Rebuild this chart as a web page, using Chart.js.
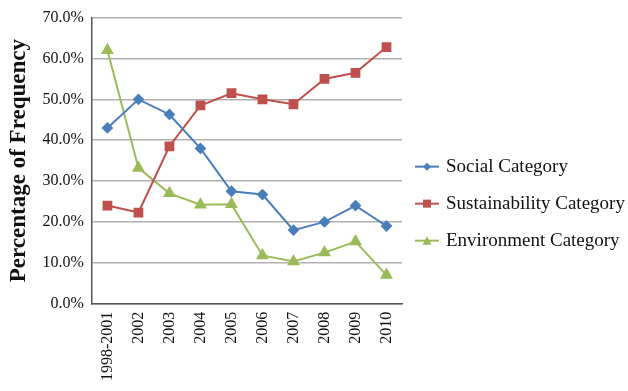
<!DOCTYPE html>
<html>
<head>
<meta charset="utf-8">
<script src="https://cdn.jsdelivr.net/npm/chart.js@4/dist/chart.umd.min.js"></script>
<style>
  html, body { margin: 0; padding: 0; background: #fff; }
  #wrap { width: 628px; height: 391px; }
</style>
</head>
<body>
<div id="wrap"><canvas id="chart" width="628" height="391"></canvas></div>
<script>
const years = ["1998-2001", "2002", "2003", "2004", "2005", "2006", "2007", "2008", "2009", "2010"];
const socialValues = [43.0, 50.0, 46.3, 38.0, 27.5, 26.7, 18.0, 20.0, 24.0, 19.0];
const sustainValues = [24.0, 22.3, 38.5, 48.5, 51.5, 50.0, 48.8, 55.0, 56.5, 62.8];
const envValues = [62.0, 33.2, 27.0, 24.2, 24.3, 11.8, 10.3, 12.5, 15.2, 7.0];
const seriesNames = ["Social Category", "Sustainability Category", "Environment Category"];

const blue = "#4a7ebb", red = "#c0504d", green = "#9bbb59";
const serif = "'Liberation Serif', 'Times New Roman', serif";

function drawMarker(g, shape, x, y) {
    g.beginPath();
    if (shape === "rectRot") {
        g.moveTo(x, y - 4); g.lineTo(x + 4, y); g.lineTo(x, y + 4); g.lineTo(x - 4, y);
    } else if (shape === "rect") {
        g.rect(x - 4, y - 4, 8, 8);
    } else {
        g.moveTo(x, y - 4.5); g.lineTo(x + 4.5, y + 4); g.lineTo(x - 4.5, y + 4);
    }
    g.closePath(); g.fill();
}

// legend to the right of the plot, drawn by hand so line + marker symbols match
const sideLegend = {
    id: "sideLegend",
    afterDraw(chart) {
        const g = chart.ctx;
        const x0 = chart.chartArea.right + 13;
        const yMid = (chart.chartArea.top + chart.chartArea.bottom) / 2 + 43;
        g.save();
        g.font = "19px " + serif;
        g.textBaseline = "middle";
        chart.data.datasets.forEach((ds, i) => {
            const y = yMid + (i - 1) * 37;
            g.strokeStyle = ds.borderColor; g.fillStyle = ds.borderColor; g.lineWidth = 2;
            g.beginPath(); g.moveTo(x0, y); g.lineTo(x0 + 24, y); g.stroke();
            drawMarker(g, ds.pointStyle, x0 + 12, y);
            g.fillStyle = "#111";
            g.fillText(ds.label, x0 + 31, y);
        });
        g.restore();
    }
};

new Chart(document.getElementById("chart").getContext("2d"), {
    type: "line",
    data: {
        labels: years,
        datasets: [
            {
                label: seriesNames[0], data: socialValues,
                borderColor: blue, backgroundColor: blue, borderWidth: 2,
                pointStyle: "rectRot", pointRadius: 4.5, pointHoverRadius: 4.5, tension: 0
            },
            {
                label: seriesNames[1], data: sustainValues,
                borderColor: red, backgroundColor: red, borderWidth: 2,
                pointStyle: "rect", pointRadius: 5.5, pointHoverRadius: 5.5, tension: 0
            },
            {
                label: seriesNames[2], data: envValues,
                borderColor: green, backgroundColor: green, borderWidth: 2,
                pointStyle: "triangle", pointRadius: 5.5, pointHoverRadius: 5.5, tension: 0
            }
        ]
    },
    options: {
        responsive: false,
        animation: false,
        devicePixelRatio: 1,
        layout: { padding: { top: 7, left: 5, right: 226, bottom: 2 } },
        plugins: {
            tooltip: { enabled: false },
            legend: { display: false }
        },
        scales: {
            x: {
                offset: true,
                grid: { display: false, drawTicks: false },
                border: { color: "#555", width: 1.5 },
                ticks: {
                    minRotation: 90, maxRotation: 90, padding: 8,
                    color: "#111", font: { family: serif, size: 16 }
                }
            },
            y: {
                min: 0, max: 70,
                grid: { color: "#b0b0b0", lineWidth: 1.5, drawTicks: false },
                border: { color: "#555", width: 1.5 },
                ticks: {
                    stepSize: 10, padding: 8,
                    color: "#111", font: { family: serif, size: 16 },
                    callback: (v) => v.toFixed(1) + "%"
                },
                title: {
                    display: true, text: "Percentage of Frequency",
                    color: "#111", font: { family: serif, size: 23, weight: "bold" },
                    padding: { top: 0, bottom: 2 }
                }
            }
        }
    },
    plugins: [sideLegend]
});
</script>
</body>
</html>
